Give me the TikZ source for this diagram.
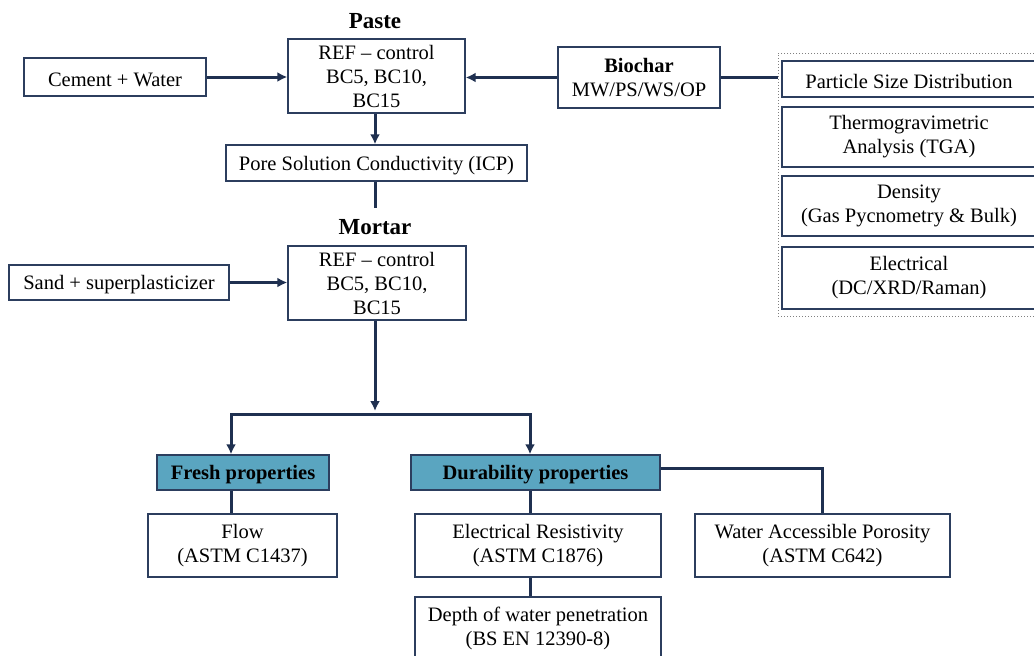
\documentclass[tikz,border=0pt]{standalone}
\usepackage{fontspec}
\setmainfont{Liberation Serif}
\usetikzlibrary{arrows.meta}

\definecolor{navy}{HTML}{1F3050}
\definecolor{boxline}{HTML}{2C3E5E}
\definecolor{teal}{HTML}{5AA5C0}

\tikzset{
  box/.style={draw=boxline,line width=1.4pt,fill=white,align=center,inner sep=0pt,
    execute at begin node={\rule{0pt}{19pt}}},
  head/.style={box,fill=teal,font=\fontsize{20.5}{24}\selectfont\bfseries},
  title/.style={font=\fontsize{23}{26}\selectfont\bfseries},
  link/.style={draw=navy,line width=3pt},
  arrow/.style={link,-{Latex[length=10pt,width=10pt]}}
}

\begin{document}
\begin{tikzpicture}[x=1pt,y=-1pt,every node/.style={font=\fontsize{20.5}{24}\selectfont}]
  \useasboundingbox (0,0) rectangle (1034,656);

  % paste
  \node[title] (PasteTitle) at (375,21) {Paste};
  \node[box,minimum width=177,minimum height=74] (Paste) at (376.5,76) {REF -- control\\BC5, BC10,\\BC15};
  \node[box,minimum width=182,minimum height=38] (Cement) at (115,77) {Cement + Water};
  \node[box,minimum width=162,minimum height=61] (Biochar) at (639,77.5) {\textbf{Biochar}\\MW/PS/WS/OP};
  \node[box,minimum width=301,minimum height=36] (Pore) at (376.5,163) {Pore Solution Conductivity (ICP)};

  % biochar tests
  \node[draw=gray,dotted,line width=1pt,minimum width=262,minimum height=263,inner sep=0pt] (Tests) at (909,184.5) {};
  \node[box,minimum width=254,minimum height=36] (PSD) at (909,79) {Particle Size Distribution};
  \node[box,minimum width=254,minimum height=60] (TGA) at (909,137) {Thermogravimetric\\Analysis (TGA)};
  \node[box,minimum width=254,minimum height=60] (Density) at (909,206) {Density\\(Gas Pycnometry \& Bulk)};
  \node[box,minimum width=254,minimum height=62] (Electrical) at (909,278) {Electrical\\(DC/XRD/Raman)};

  % mortar
  \node[title] (MortarTitle) at (375,227) {Mortar};
  \node[box,minimum width=178,minimum height=74] (Mortar) at (377,283) {REF -- control\\BC5, BC10,\\BC15};
  \node[box,minimum width=220,minimum height=35] (Sand) at (119,282.5) {Sand + superplasticizer};

  % properties
  \node[head,minimum width=172,minimum height=35] (Fresh) at (243,472.5) {Fresh properties};
  \node[head,minimum width=249,minimum height=35] (Durability) at (535.5,472.5) {Durability properties};
  \node[box,minimum width=189,minimum height=63] (Flow) at (242.5,545.5) {Flow\\(ASTM C1437)};
  \node[box,minimum width=246,minimum height=63] (Resistivity) at (538,545.5) {Electrical Resistivity\\(ASTM C1876)};
  \node[box,minimum width=246,minimum height=63] (Depth) at (538,628.5) {Depth of water penetration\\(BS EN 12390-8)};
  \node[box,minimum width=255,minimum height=63] (Porosity) at (822.5,545.5) {Water Accessible Porosity\\(ASTM C642)};

  \coordinate (PoreEnd) at (375,208);
  \coordinate (Hub) at (375,411);
  \coordinate (BarL) at (231,414);
  \coordinate (BarR) at (530,414);

  \draw[arrow] (Cement.east) -- (Cement.east -| Paste.west);
  \draw[arrow] (Biochar.west) -- (Biochar.west -| Paste.east);
  \draw[link] (Biochar.east) -- (Biochar.east -| Tests.west);
  \draw[arrow] (Paste.south -| PoreEnd) -- (Pore.north -| PoreEnd);
  \draw[link] (Pore.south -| PoreEnd) -- (PoreEnd);

  \draw[arrow] (Sand.east) -- (Sand.east -| Mortar.west);
  \draw[arrow] (Mortar.south -| Hub) -- (Hub);
  \draw[link,{Latex[length=10pt,width=10pt]}-{Latex[length=10pt,width=10pt]}] (BarL |- Fresh.north) -- (BarL) -- (BarR) -- (BarR |- Durability.north);

  \draw[link] (BarL |- Fresh.south) -- (BarL |- Flow.north);
  \draw[link] (BarR |- Durability.south) -- (BarR |- Resistivity.north);
  \draw[link] (BarR |- Resistivity.south) -- (BarR |- Depth.north);
  \draw[link] ([yshift=4pt]Durability.east) -| (Porosity.north);
\end{tikzpicture}
\end{document}
